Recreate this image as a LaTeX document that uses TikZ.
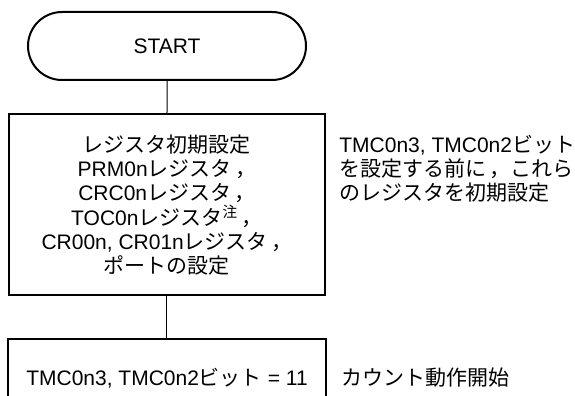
\documentclass[tikz,border=0pt]{standalone}
\usepackage{fontspec}
\setmainfont{Liberation Sans}
\newfontfamily\jpfont{Noto Sans CJK JP}
\newcommand{\jp}[1]{{\jpfont #1}}
\usepackage{tikz}
\usetikzlibrary{shapes.misc}

\begin{document}
\begin{tikzpicture}[x=0.5pt, y=-0.5pt, font=\fontsize{10.5}{12.1}\selectfont,
  term/.style={draw, line width=1pt, rounded rectangle, minimum width=139pt, minimum height=34pt, inner sep=0pt},
  proc/.style={draw, line width=1pt, minimum width=158pt, inner sep=0pt, align=center},
  note/.style={anchor=west, align=left, inner sep=0pt},
  link/.style={line width=0.5pt}]
\useasboundingbox (0,0) rectangle (575,396);
\node[term] (start) at (167,46) {START};
\node[proc, minimum height=90.5pt] (init) at (167,205) {\jp{レジスタ初期設定}\\
  PRM0n\jp{レジスタ\,，}\\
  CRC0n\jp{レジスタ\,，}\\
  TOC0n\jp{レジスタ}\textsuperscript{\jp{注}}\jp{\,，}\\
  CR00n, CR01n\jp{レジスタ\,，}\\
  \jp{ポートの設定}};
\node[proc, draw=none, minimum height=38pt] (count) at (167,378) {TMC0n3, TMC0n2\jp{ビット} = 11};
\draw[line width=1pt] (count.south west) -- (count.north west) -- (count.north east) -- (count.south east);
\draw[link] (start) -- (init);
\draw[link] (init) -- (count);
\node[note] (initnote) at (339,169) {TMC0n3, TMC0n2\jp{ビット}\\
  \jp{を設定する前に\,，これら}\\
  \jp{のレジスタを初期設定}};
\node[note] (countnote) at (341,378) {\jp{カウント動作開始}};
\end{tikzpicture}
\end{document}
